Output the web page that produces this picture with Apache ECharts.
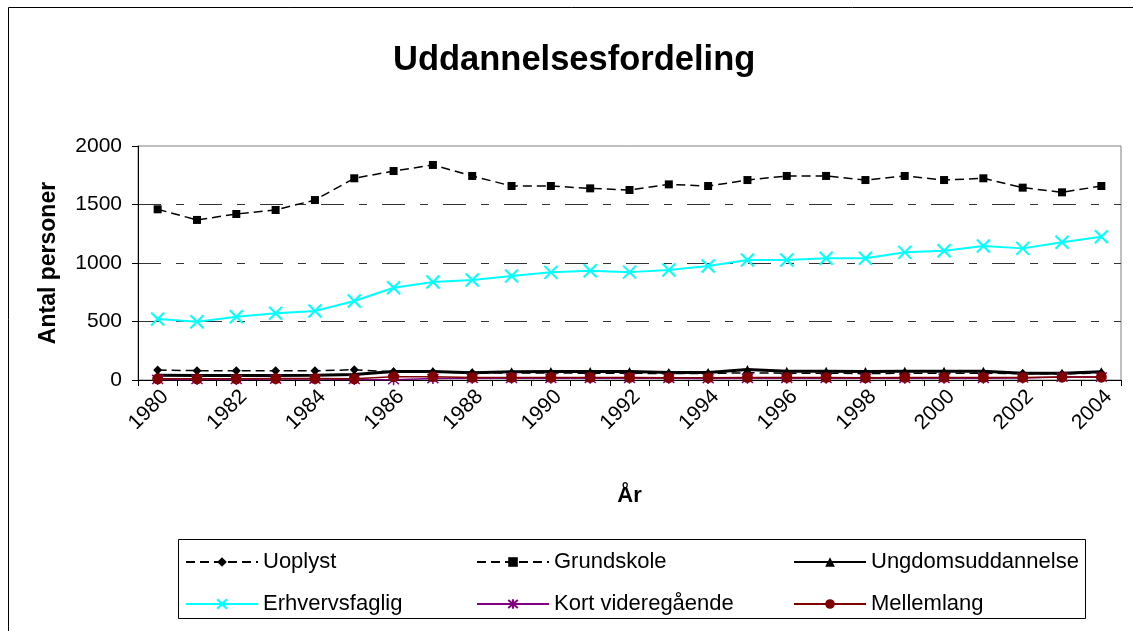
<!DOCTYPE html>
<html>
<head>
<meta charset="utf-8">
<script src="https://cdn.jsdelivr.net/npm/echarts@6/dist/echarts.min.js"></script>
<style>
html,body{margin:0;padding:0;background:#fff;}
#chart{width:1133px;height:631px;}
</style>
</head>
<body>
<div id="chart"></div>
<script>
var years = ['1980','1981','1982','1983','1984','1985','1986','1987','1988','1989','1990','1991','1992','1993','1994','1995','1996','1997','1998','1999','2000','2001','2002','2003','2004'];
var uoplyst = [85, 80, 80, 78, 78, 88, 70, 68, 62, 60, 60, 58, 58, 55, 55, 62, 58, 58, 55, 58, 58, 58, 55, 52, 60];
var grundskole = [1459, 1368, 1419, 1453, 1538, 1724, 1786, 1838, 1744, 1658, 1658, 1638, 1624, 1672, 1658, 1709, 1744, 1744, 1709, 1744, 1709, 1724, 1644, 1604, 1658];
var ungdom = [40, 38, 38, 38, 40, 48, 72, 72, 62, 70, 72, 72, 72, 65, 65, 90, 75, 75, 72, 75, 75, 75, 58, 58, 70];
var erhverv = [521, 498, 541, 570, 590, 675, 789, 838, 855, 889, 920, 934, 922, 940, 974, 1026, 1026, 1040, 1040, 1091, 1105, 1145, 1125, 1177, 1225];
var kort = [5, 5, 5, 8, 8, 5, 3, 12, 15, 15, 15, 15, 15, 15, 12, 15, 15, 15, 15, 15, 15, 15, 18, 25, 25];
var mellem = [10, 10, 10, 12, 12, 10, 28, 28, 22, 22, 22, 22, 22, 20, 20, 22, 22, 22, 20, 22, 22, 22, 22, 25, 25];
var yTicks = [0, 500, 1000, 1500, 2000];

var FONT = 'Liberation Sans, Arial, sans-serif';
var crossPath = 'path://M0,0L10,10M10,0L0,10';
var starPath = 'path://M0,0L10,10M10,0L0,10M5,-1L5,11';

var chart = echarts.init(document.getElementById('chart'));
var legendText = {fontFamily: FONT, fontSize: 22, color: '#000'};
function legendCol(left, names) {
  return {
    orient: 'vertical', left: left, top: 546, itemGap: 20,
    itemWidth: 72, itemHeight: 12, textStyle: legendText,
    data: names, selectedMode: false
  };
}
var option = {
  backgroundColor: '#fff',
  animation: false,
  title: {
    text: 'Uddannelsesfordeling', left: 388, top: 38,
    textStyle: {fontFamily: FONT, fontSize: 34.5, fontWeight: 'bold', color: '#000'}
  },
  graphic: [
    {type: 'rect', shape: {x: 8.5, y: 7.5, width: 1200, height: 700}, style: {fill: 'none', stroke: '#000', lineWidth: 1}, silent: true, z: -10},
    {type: 'rect', shape: {x: 178.5, y: 539.5, width: 907, height: 79}, style: {fill: '#fff', stroke: '#000', lineWidth: 1}, silent: true, z: -5}
  ],
  legend: [
    legendCol(180, ['Uoplyst', 'Erhvervsfaglig']),
    legendCol(471, ['Grundskole', 'Kort videregående']),
    legendCol(788, ['Ungdomsuddannelse', 'Mellemlang'])
  ],
  grid: {
    left: 138, right: 12, top: 146, bottom: 251,
    show: true, backgroundColor: '#fff', borderColor: '#808080', borderWidth: 1
  },
  xAxis: {
    type: 'category', data: years, boundaryGap: true,
    name: 'År', nameLocation: 'middle', nameGap: 105,
    nameTextStyle: {fontFamily: FONT, fontSize: 22, fontWeight: 'bold', color: '#000'},
    axisLine: {show: true, lineStyle: {color: '#000', width: 1}},
    axisTick: {show: true, interval: 0, length: 6, lineStyle: {color: '#000'}},
    axisLabel: {interval: 1, rotate: 45, margin: 6, verticalAlign: 'top', fontFamily: FONT, fontSize: 21, color: '#000'},
    splitLine: {show: false}
  },
  yAxis: {
    type: 'value', min: yTicks[0], max: yTicks[yTicks.length - 1], interval: 500,
    name: 'Antal personer', nameLocation: 'middle', nameGap: 78, nameRotate: 90,
    nameTextStyle: {fontFamily: FONT, fontSize: 23, fontWeight: 'bold', color: '#000'},
    axisLine: {show: true, lineStyle: {color: '#000', width: 1}},
    axisTick: {show: true, length: 6, lineStyle: {color: '#000'}},
    axisLabel: {margin: 16, fontFamily: FONT, fontSize: 21, color: '#000', formatter: function (v) { return String(v); }},
    splitLine: {show: true, lineStyle: {color: ['#333', '#333', '#333', '#333', 'transparent'], width: 1, type: [23, 15, 8, 15]}}
  },
  series: [
    {name: 'Uoplyst', type: 'line', data: uoplyst, symbol: 'diamond', symbolSize: 9,
      lineStyle: {color: '#000', width: 1.5, type: [9, 5]}, itemStyle: {color: '#000'}},
    {name: 'Grundskole', type: 'line', data: grundskole, symbol: 'rect', symbolSize: 8,
      lineStyle: {color: '#000', width: 1.5, type: [9, 5]}, itemStyle: {color: '#000'}},
    {name: 'Ungdomsuddannelse', type: 'line', data: ungdom, symbol: 'triangle', symbolSize: 9,
      lineStyle: {color: '#000', width: 3}, itemStyle: {color: '#000'}},
    {name: 'Erhvervsfaglig', type: 'line', data: erhverv, symbol: crossPath, symbolSize: 13,
      lineStyle: {color: '#00FFFF', width: 2}, itemStyle: {color: '#00FFFF', borderColor: '#00FFFF', borderWidth: 2}},
    {name: 'Kort videregående', type: 'line', data: kort, symbol: starPath, symbolSize: 11,
      lineStyle: {color: '#800080', width: 1.5}, itemStyle: {color: '#800080', borderColor: '#800080', borderWidth: 1.5}},
    {name: 'Mellemlang', type: 'line', data: mellem, symbol: 'circle', symbolSize: 11,
      lineStyle: {color: '#800000', width: 1.5}, itemStyle: {color: '#800000'}}
  ]
};
chart.setOption(option);
</script>
</body>
</html>
